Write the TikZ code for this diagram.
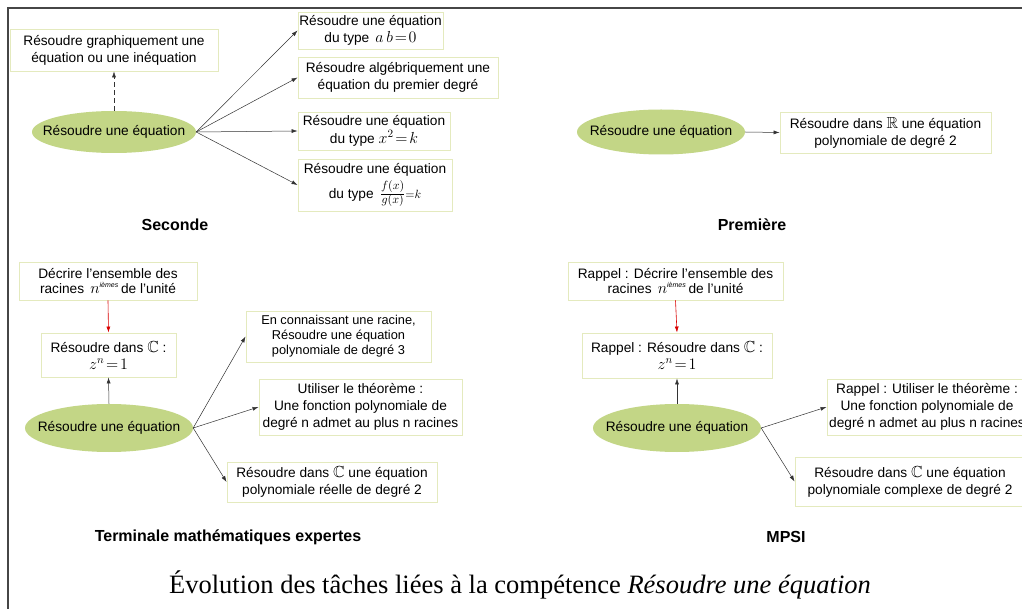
\RequirePackage{fix-cm}
\documentclass[tikz,border=0pt]{standalone}
\usepackage{amsmath,amssymb}
\usepackage[no-math]{fontspec}
\setmainfont{Liberation Sans}
\newfontfamily\capfont{Liberation Serif}
\usetikzlibrary{arrows.meta,shapes.geometric}
\definecolor{ellfill}{RGB}{195,214,134}
\definecolor{boxline}{RGB}{228,234,190}
\definecolor{framec}{RGB}{70,70,70}
\newcommand{\mbig}[1]{{\fontsize{16}{16}\selectfont$#1$}}
\tikzset{
  tbox/.style={draw=boxline, line width=0.9pt, fill=white, rectangle, align=center, inner sep=1pt,
    font=\fontsize{13.7}{17}\selectfont},
  ell/.style={ellipse, fill=ellfill, draw=none, inner sep=0pt},
  elltext/.style={inner sep=0pt, font=\fontsize{13.7}{16}\selectfont},
  arr/.style={-{Latex[length=6pt,width=4pt]}, line width=0.5pt, draw=black!80},
  redarr/.style={-{Latex[length=6pt,width=4pt]}, line width=0.6pt, draw=red!85!black},
  lvl/.style={font=\fontsize{16}{18}\selectfont\bfseries},
}
\begin{document}
\begin{tikzpicture}[x=1pt,y=-1pt]
\clip (0,0) rectangle (1022,609);
\fill[white] (0,0) rectangle (1022,609);
\draw[framec, line width=1.3pt] (8,612) -- (8,8) -- (1025,8);

% ---------- Seconde ----------
\node[ell, minimum width=164pt, minimum height=42pt] (S) at (114,132) {};
\node[elltext] (St) at (S.center) {Résoudre une équation};
\node[tbox, minimum width=208pt, minimum height=42pt] (S1) at (114,50) {Résoudre graphiquement une\\équation ou une inéquation};
\node[tbox, minimum width=145pt, minimum height=37pt] (S2) at (370.5,30.5) {Résoudre une équation\\du type \,\mbig{a\,b\!=\!0}};
\node[tbox, minimum width=200pt, minimum height=41pt] (S3) at (398,77.5) {Résoudre algébriquement une\\équation du premier degré};
\node[tbox, minimum width=152pt, minimum height=38pt] (S4) at (374,131) {Résoudre une équation\\[1pt]du type \mbig{x^2\!=\!k}};
\node[tbox, minimum width=154pt, minimum height=52pt] (S5) at (375,185) {Résoudre une équation\\[4pt]du type \,{\fontsize{17}{17}\selectfont$\frac{f(x)}{g(x)}\scriptstyle=k$}};
\draw[arr, dash pattern=on 5pt off 3pt] (S.north) -- (S1.south);
\draw[arr] (S.east) -- (S2.west);
\draw[arr] (S.east) -- (S3.west);
\draw[arr] (S.east) -- (S4.west);
\draw[arr] (S.east) -- (S5.west);
\node[lvl] (Slab) at (175,225) {Seconde};

% ---------- Premiere ----------
\node[ell, minimum width=168pt, minimum height=45pt] (P) at (661,132) {};
\node[elltext] (Pt) at (P.center) {Résoudre une équation};
\node[tbox, minimum width=211pt, minimum height=41pt] (P1) at (885.5,132.5) {Résoudre dans \mbig{\mathbb{R}} une équation\\polynomiale de degré 2};
\draw[arr] (P.east) -- (P1.west);
\node[lvl] (Plab) at (752,225) {Première};

% ---------- Terminale ----------
\node[ell, minimum width=168pt, minimum height=48pt] (T) at (109,428) {};
\node[elltext] (Tt) at (T.center) {Résoudre une équation};
\node[tbox, minimum width=178pt, minimum height=38pt] (T1) at (108,281) {Décrire l'ensemble des\\[-2pt]racines \,\mbig{n^{\textit{\scriptsize ièmes}}}\,de l’unité};
\node[tbox, minimum width=135pt, minimum height=44pt] (T2) at (108.5,355) {Résoudre dans \mbig{\mathbb{C}} :\\\mbig{z^n\!=\!1}};
\node[tbox, minimum width=185pt, minimum height=51pt, font=\fontsize{12.8}{15}\selectfont] (T3) at (338.5,336.5) {En connaissant une racine,\\Résoudre une équation\\polynomiale de degré 3};
\node[tbox, minimum width=203pt, minimum height=56pt] (T4) at (360.5,407) {Utiliser le théorème :\\Une fonction polynomiale de\\degré n admet au plus n racines};
\node[tbox, minimum width=210pt, minimum height=40pt] (T5) at (332,482) {Résoudre dans \mbig{\mathbb{C}} une équation\\polynomiale réelle de degré 2};
\draw[redarr] (T1.south) -- (T2.north);
\draw[arr] (T.north) -- (T2.south);
\draw[arr] (T.east) -- (T3.west);
\draw[arr] (T.east) -- (T4.west);
\draw[arr] (T.east) -- (T5.west);
\node[lvl] (Tlab) at (228,537) {Terminale mathématiques expertes};

% ---------- MPSI ----------
\node[ell, minimum width=168pt, minimum height=48pt] (M) at (677,428) {};
\node[elltext] (Mt) at (M.center) {Résoudre une équation};
\node[tbox, minimum width=215pt, minimum height=38pt] (M1) at (675.5,281) {Rappel : Décrire l'ensemble des\\[-2pt]racines \,\mbig{n^{\textit{\scriptsize ièmes}}}\,de l'unité};
\node[tbox, minimum width=190pt, minimum height=45pt] (M2) at (677,355.5) {Rappel : Résoudre dans \mbig{\mathbb{C}} :\\\mbig{z^n\!=\!1}};
\node[tbox, minimum width=200pt, minimum height=56pt] (M3) at (927,407) {Rappel : Utiliser le théorème :\\Une fonction polynomiale de\\degré n admet au plus n racines};
\node[tbox, minimum width=230pt, minimum height=49pt] (M4) at (910,481.5) {Résoudre dans \mbig{\mathbb{C}} une équation\\polynomiale complexe de degré 2};
\draw[redarr] (M1.south) -- (M2.north);
\draw[arr] (M.north) -- (M2.south);
\draw[arr] (M.east) -- (M3.west);
\draw[arr] (M.east) -- (M4.west);
\node[lvl] (Mlab) at (786,537) {MPSI};

% ---------- caption ----------
\node[font=\capfont\fontsize{26.5}{30}\selectfont, anchor=base, inner sep=0pt] (cap) at (520,593) {Évolution des tâches liées à la compétence \textit{Résoudre une équation}};
\end{tikzpicture}
\end{document}
